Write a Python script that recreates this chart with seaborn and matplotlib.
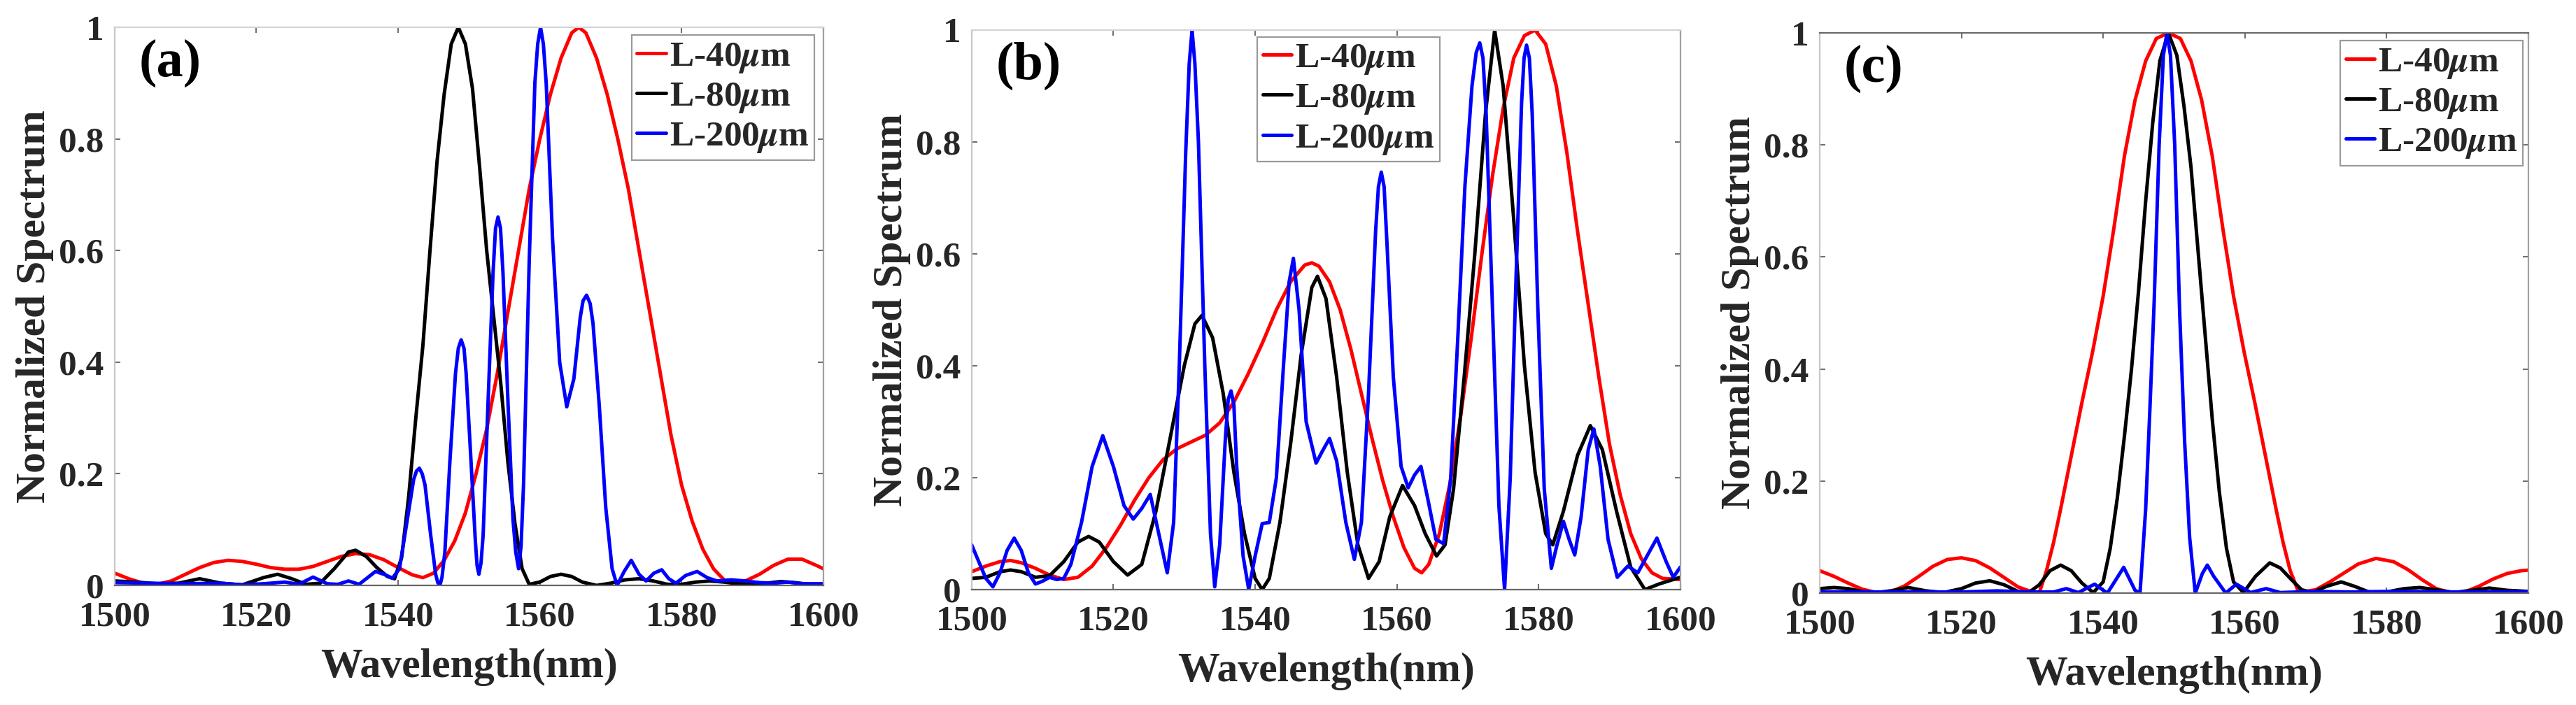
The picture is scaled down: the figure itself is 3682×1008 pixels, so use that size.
import matplotlib
matplotlib.use("Agg")
import pandas as pd
import matplotlib.pyplot as plt
import seaborn as sns
from matplotlib.lines import Line2D
from matplotlib.ticker import FormatStrFormatter

# ---- panel (a) ----
a40_x = [1500, 1502, 1504, 1506, 1508, 1510, 1512, 1514, 1516, 1518, 1520, 1522, 1524, 1526, 1528,
         1530, 1532, 1534, 1536, 1538, 1540, 1542, 1543.5, 1545, 1546.5, 1548, 1549.5, 1551, 1552.5,
         1554, 1555.5, 1557, 1558.5, 1560, 1561.5, 1563, 1564.5, 1565.5, 1566.5, 1568, 1569.5, 1571,
         1572.5, 1574, 1575.5, 1577, 1578.5, 1580, 1581.5, 1583, 1584.5, 1586, 1587.5, 1589, 1591,
         1593, 1595, 1597, 1599, 1600]
a40_y = [0.022, 0.012, 0.004, 0.002, 0.008, 0.02, 0.032, 0.041, 0.045, 0.043, 0.038, 0.032, 0.029, 0.029, 0.034,
         0.043, 0.052, 0.057, 0.055, 0.046, 0.032, 0.019, 0.014, 0.022, 0.045, 0.08, 0.13, 0.2, 0.28,
         0.38, 0.49, 0.6, 0.71, 0.8, 0.88, 0.945, 0.99, 1.0, 0.99, 0.945, 0.88, 0.8,
         0.71, 0.6, 0.49, 0.38, 0.27, 0.18, 0.115, 0.065, 0.03, 0.01, 0.002, 0.008, 0.02,
         0.036, 0.047, 0.047, 0.036, 0.03]

a80_x = [1500, 1503, 1506, 1509, 1512, 1515, 1518, 1521, 1523, 1525, 1527, 1529, 1531, 1533, 1534,
         1535.5, 1537, 1538.5, 1539.5, 1540.5, 1541.5, 1542.5, 1543.5, 1544.5, 1545.5, 1546.5, 1547.5,
         1548.5, 1549.5, 1550.5, 1551.5, 1552.5, 1553.5, 1554.5, 1555.5, 1556.5, 1557.5, 1558.5, 1560,
         1561.5, 1563, 1564.5, 1566, 1568, 1570, 1572, 1574, 1576, 1578, 1580, 1582, 1584, 1586, 1588,
         1590, 1592, 1594, 1596, 1598, 1600]
a80_y = [0.008, 0.006, 0.003, 0.004, 0.012, 0.004, 0.001, 0.014, 0.02, 0.012, 0.002, 0.004, 0.03, 0.06, 0.063,
         0.052, 0.032, 0.016, 0.012, 0.05, 0.16, 0.3, 0.43, 0.6, 0.76, 0.88, 0.97,
         1.0, 0.97, 0.89, 0.75, 0.6, 0.48, 0.36, 0.22, 0.11, 0.03, 0.002, 0.006,
         0.016, 0.02, 0.016, 0.006, 0.0, 0.004, 0.01, 0.012, 0.008, 0.002, 0.002, 0.006, 0.008, 0.006, 0.003,
         0.002, 0.004, 0.007, 0.005, 0.002, 0.002]

a200_x = [1500, 1505, 1510, 1515, 1518, 1521, 1524, 1526, 1528, 1530, 1531.5, 1533, 1534.5, 1536.8, 1538,
          1539.2, 1540.2, 1541.2, 1542.2, 1542.6, 1543, 1543.4, 1543.8, 1544.6, 1545.3, 1545.6, 1545.9,
          1546.2, 1546.6, 1547.3, 1548.1, 1548.5, 1548.9, 1549.3, 1549.6, 1550.3, 1550.9, 1551.15,
          1551.4, 1551.7, 1552, 1552.7, 1553.4, 1553.75, 1554.1, 1554.45, 1554.8, 1555.5, 1556.2,
          1556.6, 1557, 1557.35, 1557.7, 1558.5, 1559.3, 1559.7, 1560.1, 1560.5, 1560.9, 1561.8,
          1562.8, 1563.8, 1564.8, 1565.7, 1566.1, 1566.6, 1567.1, 1567.5, 1568.4, 1569.3, 1570.2,
          1570.9, 1571.9, 1572.9, 1574, 1575, 1576.1, 1577.2, 1578.2, 1579.2, 1580.6, 1582.2, 1583.6,
          1585, 1587, 1589, 1591, 1593, 1595, 1597, 1600]
a200_y = [0.005, 0.004, 0.003, 0.004, 0.001, 0.003, 0.006, 0.002, 0.015, 0.003, 0.002, 0.008, 0.002, 0.025, 0.02,
          0.013, 0.03, 0.11, 0.19, 0.205, 0.21, 0.2, 0.18, 0.09, 0.02, 0.005, 0.0,
          0.015, 0.06, 0.22, 0.38, 0.425, 0.44, 0.425, 0.38, 0.22, 0.08, 0.035,
          0.02, 0.04, 0.09, 0.33, 0.56, 0.64, 0.66, 0.64, 0.56, 0.33, 0.12,
          0.06, 0.03, 0.07, 0.18, 0.58, 0.9, 0.97, 1.0, 0.97, 0.9, 0.62,
          0.4, 0.32, 0.37, 0.48, 0.51, 0.52, 0.505, 0.47, 0.32, 0.14, 0.03,
          0.0, 0.025, 0.045, 0.02, 0.008, 0.022, 0.028, 0.012, 0.004, 0.018, 0.025, 0.014,
          0.008, 0.01, 0.008, 0.005, 0.004, 0.006, 0.003, 0.003]

# ---- panel (b) ----
b40_x = [1500, 1502, 1504, 1505.5, 1507, 1509, 1511, 1513, 1515, 1517, 1519, 1521, 1523, 1525, 1527,
         1529, 1531, 1533, 1535, 1537, 1539, 1541, 1543, 1545, 1547, 1548, 1549, 1550.5, 1552, 1553.5,
         1555, 1556.5, 1558, 1559.5, 1561, 1562.5, 1563.5, 1564.5, 1566, 1567.5, 1569, 1570.5, 1572,
         1573.5, 1575, 1576.5, 1578, 1579.5, 1581, 1582.5, 1584, 1585.5, 1587, 1588.5, 1590, 1591.5,
         1593, 1594.5, 1596, 1597.5, 1600]
b40_y = [0.032, 0.042, 0.05, 0.052, 0.048, 0.038, 0.026, 0.018, 0.022, 0.042, 0.075, 0.115, 0.16, 0.2, 0.232,
         0.252, 0.264, 0.276, 0.298, 0.335, 0.385, 0.44, 0.5, 0.55, 0.58, 0.584, 0.578, 0.55, 0.5, 0.43,
         0.35, 0.27, 0.195, 0.13, 0.075, 0.038, 0.03, 0.045, 0.1, 0.19, 0.31, 0.45, 0.6,
         0.74, 0.86, 0.95, 0.99, 1.0, 0.975, 0.9, 0.78, 0.64, 0.51, 0.38, 0.26, 0.17,
         0.1, 0.055, 0.03, 0.02, 0.018]

b80_x = [1500, 1502, 1504, 1505.5, 1507, 1509, 1511, 1513, 1515, 1516.5, 1518, 1520, 1522, 1524, 1526,
         1528, 1530, 1531.5, 1532.5, 1534, 1535.5, 1537, 1538.5, 1540, 1541, 1542, 1543.5, 1545, 1546.5,
         1548, 1548.8, 1550, 1551.5, 1553, 1554.5, 1556, 1557.5, 1559, 1560.8, 1562.5, 1564, 1565.6,
         1566.8, 1568, 1569.5, 1571, 1572.5, 1573.8, 1575, 1576.5, 1578, 1579.5, 1581, 1582, 1583.5,
         1585.5, 1587.3, 1589, 1591, 1593, 1595, 1597, 1600]
b80_y = [0.02, 0.022, 0.032, 0.035, 0.032, 0.022, 0.025, 0.05, 0.085, 0.095, 0.085, 0.05, 0.026, 0.045, 0.14,
         0.27, 0.4, 0.475, 0.49, 0.45, 0.35, 0.21, 0.1, 0.02, 0.0, 0.02, 0.12, 0.26, 0.42,
         0.54, 0.56, 0.52, 0.38, 0.21, 0.08, 0.02, 0.05, 0.13, 0.186, 0.15, 0.1, 0.06,
         0.08, 0.18, 0.38, 0.6, 0.85, 1.0, 0.9, 0.66, 0.4, 0.21, 0.1, 0.08, 0.14,
         0.24, 0.293, 0.25, 0.14, 0.04, 0.0, 0.01, 0.022]

b200_x = [1500, 1501, 1502, 1503, 1504, 1505, 1506, 1507, 1508, 1509, 1510, 1511, 1512, 1513, 1514,
          1515.5, 1517, 1518.5, 1520, 1521.5, 1522.8, 1524, 1525.2, 1526.4, 1527.6, 1528.5, 1529.3,
          1530.2, 1530.7, 1531.1, 1531.5, 1532, 1532.9, 1533.7, 1534.3, 1535, 1535.8, 1536.2, 1536.6,
          1537, 1537.4, 1538.3, 1539.1, 1540, 1541, 1542, 1543, 1544, 1544.8, 1545.4, 1546.2, 1547.2,
          1548.6, 1549.6, 1550.5, 1551.5, 1552.8, 1554, 1555, 1556, 1557, 1557.4, 1557.8, 1558.2,
          1558.6, 1559.5, 1560.6, 1561.6, 1562.5, 1563.4, 1564.4, 1565.5, 1566.6, 1567.6, 1568.6,
          1569.6, 1570.6, 1571.2, 1571.7, 1572.15, 1572.6, 1573.5, 1574.4, 1575.2, 1576, 1576.8,
          1577.6, 1577.95, 1578.3, 1578.7, 1579.1, 1579.9, 1580.8, 1581.8, 1582.6, 1583.5, 1584.3,
          1585.1, 1586, 1587, 1587.8, 1588.7, 1589.8, 1591.1, 1592.6, 1594, 1595.3, 1596.7, 1598, 1599,
          1600]
b200_y = [0.08, 0.05, 0.02, 0.005, 0.03, 0.07, 0.092, 0.07, 0.03, 0.01, 0.015, 0.022, 0.018, 0.02, 0.045,
          0.12, 0.22, 0.275, 0.22, 0.15, 0.126, 0.145, 0.17, 0.1, 0.03, 0.12, 0.4,
          0.78, 0.94, 1.0, 0.94, 0.8, 0.4, 0.1, 0.005, 0.08, 0.27, 0.34, 0.355,
          0.33, 0.22, 0.06, 0.0, 0.06, 0.118, 0.12, 0.2, 0.4, 0.55, 0.592, 0.5, 0.3,
          0.226, 0.25, 0.27, 0.23, 0.12, 0.054, 0.12, 0.35, 0.64, 0.72, 0.746, 0.72,
          0.62, 0.38, 0.22, 0.182, 0.205, 0.22, 0.16, 0.09, 0.082, 0.2, 0.45,
          0.72, 0.9, 0.96, 0.977, 0.95, 0.85, 0.5, 0.15, 0.0, 0.2, 0.55,
          0.87, 0.95, 0.973, 0.95, 0.85, 0.5, 0.18, 0.038, 0.08, 0.122, 0.09,
          0.062, 0.13, 0.25, 0.287, 0.22, 0.09, 0.022, 0.042, 0.03, 0.06, 0.092, 0.05, 0.022,
          0.04]

# ---- panel (c) ----
c40_x = [1500, 1502, 1504, 1506, 1508, 1510, 1512, 1514, 1516, 1518, 1520, 1522, 1524, 1526, 1528,
         1530, 1531, 1532, 1533, 1534, 1535.5, 1537, 1538.5, 1540, 1541.5, 1543, 1544.5, 1546, 1547.5,
         1549.2, 1550.9, 1552.4, 1553.9, 1555.4, 1556.9, 1558.4, 1559.9, 1561.4, 1562.9, 1564.4,
         1565.4, 1566.4, 1567.6, 1570, 1572, 1574, 1576, 1578.5, 1581, 1583, 1585, 1587, 1589, 1591,
         1593, 1595, 1597, 1599, 1600]
c40_y = [0.04, 0.03, 0.018, 0.007, 0.001, 0.002, 0.013, 0.03, 0.048, 0.06, 0.063, 0.058, 0.045, 0.028, 0.011,
         0.002, 0.001, 0.04, 0.09, 0.15, 0.245, 0.34, 0.43, 0.53, 0.65, 0.78, 0.88, 0.95, 0.99,
         1.0, 0.99, 0.95, 0.88, 0.78, 0.65, 0.53, 0.43, 0.34, 0.245, 0.15,
         0.09, 0.04, 0.001, 0.006, 0.02, 0.036, 0.052, 0.062, 0.056, 0.042, 0.024, 0.008, 0.001, 0.002,
         0.012, 0.025, 0.035, 0.04, 0.041]

c80_x = [1500, 1502, 1504, 1506, 1508, 1510, 1512.5, 1515, 1517.5, 1520, 1522, 1524, 1526, 1528, 1529.5,
         1531, 1532.5, 1534, 1535.5, 1537, 1538.6, 1540, 1541, 1542, 1543, 1544, 1545, 1546, 1547, 1548,
         1549.2, 1550.4, 1551.4, 1552.4, 1553.4, 1554.4, 1555.4, 1556.4, 1557.4, 1558.4, 1559.8,
         1561.5, 1563.5, 1565, 1566.5, 1568, 1569.5, 1571.5, 1573.6, 1575.5, 1577.5, 1580, 1582.5,
         1584.7, 1587, 1589.5, 1592, 1594.5, 1597, 1600]
c80_y = [0.008, 0.01, 0.008, 0.003, 0.001, 0.004, 0.01, 0.004, 0.001, 0.008, 0.018, 0.022, 0.015, 0.003, 0.001,
         0.015, 0.04, 0.05, 0.04, 0.018, 0.001, 0.02, 0.08, 0.17, 0.28, 0.4, 0.54, 0.7, 0.84, 0.95,
         1.0, 0.96, 0.87, 0.76, 0.61, 0.46, 0.31, 0.18, 0.08, 0.02, 0.001,
         0.03, 0.054, 0.045, 0.025, 0.006, 0.001, 0.012, 0.02, 0.012, 0.002, 0.002, 0.008,
         0.01, 0.006, 0.001, 0.005, 0.009, 0.005, 0.003]

c200_x = [1500, 1510, 1520, 1525, 1530, 1533, 1534.8, 1536.5, 1538.8, 1540.6, 1542.9, 1544.5, 1545.2,
          1546, 1546.6, 1547.2, 1547.9, 1548.5, 1549, 1549.5, 1550.1, 1550.8, 1551.5, 1552.2, 1553,
          1554, 1554.7, 1555.6, 1557.3, 1558.8, 1560.8, 1563, 1565, 1570, 1575, 1580, 1590, 1600]
c200_y = [0.002, 0.002, 0.002, 0.004, 0.002, 0.002, 0.008, 0.001, 0.016, 0.0, 0.046, 0.005, 0.0,
          0.15, 0.33, 0.52, 0.8, 0.96, 1.0, 0.96, 0.8, 0.5, 0.27, 0.1, 0.0,
          0.035, 0.05, 0.03, 0.0, 0.016, 0.001, 0.008, 0.001, 0.003, 0.002, 0.003, 0.002, 0.002]

series_labels = [r"L-40$\mu$m", r"L-80$\mu$m", r"L-200$\mu$m"]
series_colors = ["#ff0000", "#000000", "#0000ff"]
panel_tags = ["(a)", "(b)", "(c)"]

panels = [
    [(a40_x, a40_y), (a80_x, a80_y), (a200_x, a200_y)],
    [(b40_x, b40_y), (b80_x, b80_y), (b200_x, b200_y)],
    [(c40_x, c40_y), (c80_x, c80_y), (c200_x, c200_y)],
]

sns.set_style("white")
plt.rcParams["font.family"] = ["Liberation Serif", "DejaVu Serif"]
plt.rcParams["font.weight"] = "bold"
plt.rcParams["mathtext.fontset"] = "stix"

fig = plt.figure(figsize=(36.82, 10.08), dpi=100)
# axes boxes in figure fractions [left, bottom, width, height]
boxes = [
    [0.0445, 0.1696, 0.2751, 0.7917],
    [0.3772, 0.1637, 0.2751, 0.7937],
    [0.7064, 0.1587, 0.2751, 0.7946],
]
legend_anchor = [((0.987, 0.986), "upper right"),
                 ((0.403, 0.988), "upper left"),
                 ((0.992, 0.986), "upper right")]

palette = dict(zip(series_labels, series_colors))

for i, panel in enumerate(panels):
    ax = fig.add_axes(boxes[i])
    frames = []
    for (xs, ys), lab in zip(panel, series_labels):
        frames.append(pd.DataFrame({"wavelength": xs, "spectrum": ys, "series": lab}))
    df = pd.concat(frames, ignore_index=True)

    sns.lineplot(data=df, x="wavelength", y="spectrum", hue="series", hue_order=series_labels,
                 palette=palette, estimator=None, sort=False, lw=3.6, legend=False, ax=ax)

    ax.set_xlim(1500, 1600)
    ax.set_ylim(0, 1)
    ax.set_xticks(range(1500, 1601, 20))
    ax.set_yticks([0, 0.2, 0.4, 0.6, 0.8, 1.0])
    ax.yaxis.set_major_formatter(FormatStrFormatter("%g"))
    ax.tick_params(axis="both", which="major", direction="in", length=6, width=1.5,
                   color="#707070", labelsize=37, labelcolor="#262626",
                   top=True, right=True, bottom=True, left=True)
    ax.tick_params(axis="x", pad=16)
    ax.tick_params(axis="y", pad=11)
    for lbl in ax.get_xticklabels() + ax.get_yticklabels():
        lbl.set_fontweight("bold")

    ax.set_xlabel("Wavelength(nm)", fontsize=43, fontweight="bold", color="#262626")
    ax.set_ylabel("Normalized Spectrum", fontsize=43, fontweight="bold", color="#262626")
    ax.xaxis.set_label_coords(0.5, -0.112)
    ax.yaxis.set_label_coords(-0.086, 0.5)

    ax.spines["left"].set_color("#c8c8c8")
    ax.spines["top"].set_color("#6a6a6a" if i == 2 else "#d4d4d4")
    ax.spines["right"].set_color("#a0a0a0")
    ax.spines["bottom"].set_color("#666666")
    for sp in ax.spines.values():
        sp.set_linewidth(1.6)
        sp.set_visible(True)

    ax.text(0.034, 0.936, panel_tags[i], transform=ax.transAxes, fontsize=55,
            fontweight="bold", ha="left", va="center", color="black")

    handles = [Line2D([], [], color=c, lw=3.6) for c in series_colors]
    anchor, loc = legend_anchor[i]
    leg = ax.legend(handles, series_labels, loc=loc, bbox_to_anchor=anchor,
                    prop={"size": 37, "weight": "bold"}, handlelength=0.8, handletextpad=0.1,
                    borderpad=0.15, labelspacing=0.16, borderaxespad=0, frameon=True,
                    fancybox=False, framealpha=1, edgecolor="#9a9a9a")
    leg.get_frame().set_linewidth(1.6)

fig.savefig("out.png", dpi=100)
